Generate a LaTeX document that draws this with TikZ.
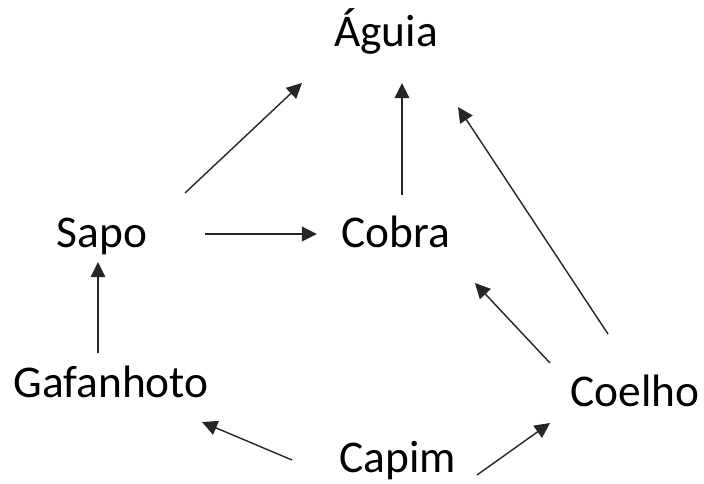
\documentclass[tikz,border=0pt]{standalone}
\usepackage{fontspec}
\setmainfont{Carlito}
\usetikzlibrary{arrows.meta}
\tikzset{
  especie/.style={anchor=base,inner sep=0pt,font=\fontsize{32.3}{38}\selectfont},
  seta/.style={-{Triangle[length=0.38cm,width=0.37cm]},line width=1pt,black!85}
}
\begin{document}
\begin{tikzpicture}
\useasboundingbox (0,0) rectangle (17.6,12.1);
% especies
\node[especie] (aguia) at (9.65,10.925) {Águia};
\node[especie] (sapo) at (2.55,5.9) {Sapo};
\node[especie] (cobra) at (9.9,5.9) {Cobra};
\node[especie] (gafanhoto) at (2.775,2.15) {Gafanhoto};
\node[especie] (coelho) at (15.875,1.925) {Coelho};
\node[especie] (capim) at (9.95,0.275) {Capim};
% quem come quem
\draw[seta] ([shift={(2.075,1.375)}]sapo.base) -- ([shift={(-2.1,-0.9)}]aguia.base);
\draw[seta] ([shift={(0.15,1.325)}]cobra.base) -- ([shift={(0.4,-0.9)}]aguia.base);
\draw[seta] ([shift={(-0.675,1.825)}]coelho.base) -- ([shift={(1.8,-1.5)}]aguia.base);
\draw[seta] ([shift={(2.575,0.35)}]sapo.base) -- ([shift={(-1.975,0.35)}]cobra.base);
\draw[seta] ([shift={(-2.125,1.1)}]coelho.base) -- ([shift={(1.975,-0.875)}]cobra.base);
\draw[seta] ([shift={(-0.325,1.125)}]gafanhoto.base) -- ([shift={(-0.1,-0.35)}]sapo.base);
\draw[seta] ([shift={(-2.65,0.325)}]capim.base) -- ([shift={(2.275,-0.6)}]gafanhoto.base);
\draw[seta] ([shift={(1.975,-0.05)}]capim.base) -- ([shift={(-2.125,-0.4)}]coelho.base);
\end{tikzpicture}
\end{document}
